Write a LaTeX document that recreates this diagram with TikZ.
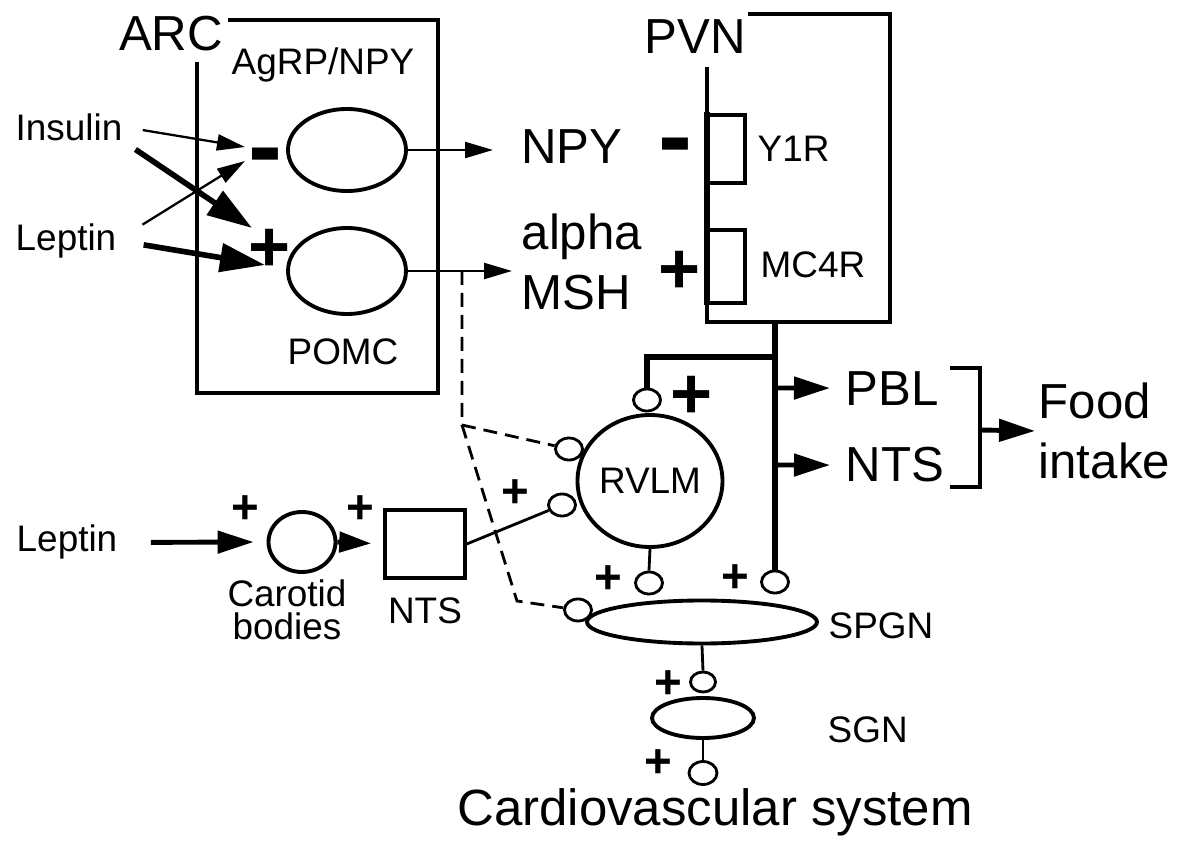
\documentclass[tikz,border=0pt]{standalone}
\usepackage{fontspec}
\setmainfont{Liberation Sans}
\usetikzlibrary{arrows.meta,shapes.geometric}

\tikzset{
  box/.style={line width=1pt},
  link/.style={line width=0.8pt},
  stem/.style={line width=1.5pt},
  cell/.style={draw,ellipse,line width=1.1pt,inner sep=0pt},
  syn/.style={draw,ellipse,line width=0.8pt,inner sep=0pt,
    minimum width=2.7mm,minimum height=2.2mm},
  lbl/.style={font=\fontsize{10.5}{12}\selectfont,inner sep=0pt},
  big/.style={font=\fontsize{14}{17}\selectfont,inner sep=0pt},
  pl/.style={font=\fontsize{13.5}{14}\selectfont\bfseries,inner sep=0pt},
  bigpl/.style={font=\fontsize{20.5}{21}\selectfont\bfseries,inner sep=0pt},
  mn/.style={font=\fontsize{29}{29}\selectfont\bfseries,inner sep=0pt},
  thinarr/.style={-{Triangle[length=2.8mm,width=1.6mm]},line width=0.65pt},
  fatarr/.style={-{Triangle[length=4.5mm,width=2.8mm]},line width=1.6pt},
  midarr/.style={-{Triangle[length=3.6mm,width=2.2mm]},line width=1.4pt},
  dashlink/.style={dash pattern=on 1.4mm off 0.8mm,line width=0.8pt},
}

\begin{document}
\begin{tikzpicture}[x=0.1mm,y=-0.1mm]
  \useasboundingbox (0,0) rectangle (1184,842);

  % ARC with its two cell groups
  \node[big,anchor=base] (arc) at (171,50) {ARC};
  \draw[box] (228,20) -| (438,393) -| (197,62);
  \node[lbl,anchor=base] (agrp) at (323,75) {AgRP/NPY};
  \node[cell,minimum width=11.8mm,minimum height=8.2mm] (npyCell) at (347,150) {};
  \node[cell,minimum width=11.8mm,minimum height=8.6mm] (pomcCell) at (347,271) {};
  \node[lbl,anchor=base] (pomc) at (343,365) {POMC};

  \node[lbl,anchor=base] (ins) at (69,140) {Insulin};
  \node[lbl,anchor=base] (lep) at (66,250) {Leptin};
  \coordinate (npyIn) at (245,147);
  \coordinate (npyIn2) at (245,161);
  \coordinate (pomcIn) at (252,228);
  \coordinate (pomcIn2) at (265,265);
  \draw[thinarr,shorten <=2mm] (ins.east) -- (npyIn);
  \draw[fatarr,shorten <=1.5mm] (ins.south east) -- (pomcIn);
  \draw[thinarr,shorten <=3mm] (lep.east) -- (npyIn2);
  \draw[fatarr,shorten <=2.7mm] (lep.east) -- (pomcIn2);
  \node[mn] (mnA) at (265,164) {-};
  \node[bigpl] (plA) at (270,250) {+};

  % outputs of ARC
  \node[big,anchor=base] (npy) at (572,163) {NPY};
  \node[big,anchor=west,align=left] (msh) at (521,262) {alpha\\MSH};
  \coordinate (npyTip) at (493,150);
  \coordinate (mshTip) at (512,271);
  \draw[thinarr] (npyCell.east) -- (npyTip);
  \draw[thinarr] (pomcCell.east) -- (mshTip);

  % PVN and receptors
  \node[big,anchor=base] (pvn) at (695,53) {PVN};
  \draw[box] (748,14) -| (890,322) -| (707,67);
  \draw[box] (707,115) rectangle (745,183);   % Y1R
  \draw[box] (707,230) rectangle (745,303);   % MC4R
  \draw[stem] (707,112) -- (707,305);
  \node[lbl,anchor=base west] (y1r) at (757,162) {Y1R};
  \node[lbl,anchor=base west] (mc4r) at (760,278) {MC4R};
  \node[mn] (mnB) at (675,154) {-};
  \node[bigpl] (plB) at (680,272) {+};

  % RVLM and its synapses
  \node[cell,font=\fontsize{10.5}{12}\selectfont,minimum width=14.5mm,
    minimum height=13.2mm] (rvlm) at (650,481) {RVLM};
  \node[syn] (synTop) at (647,400) {};
  \node[syn] (synUL) at (569,449) {};
  \node[syn] (synLow) at (562,505) {};
  \node[syn] (synA) at (649,583) {};
  \node[syn] (synB) at (775,582) {};
  \node[syn] (synSP) at (578,610) {};
  \node[bigpl] (plC) at (692,397) {+};

  % PVN stem down to SPGN
  \coordinate (pvnOut) at (775,322);
  \coordinate (stemBar) at (775,357);
  \coordinate (stemPBL) at (775,388);
  \coordinate (stemNTS) at (775,465);
  \draw[stem] (pvnOut) -- (synB.north);
  \draw[stem] (synTop.north) |- (stemBar);
  \node[big,anchor=base west] (pbl) at (845,405) {PBL};
  \node[big,anchor=base west] (ntsR) at (845,482) {NTS};
  \draw[midarr,shorten >=1.5mm] (stemPBL) -- (pbl.west);
  \draw[midarr,shorten >=1.5mm] (stemNTS) -- (ntsR.west);
  \draw[box] (950,368) -| (980,487) -- (950,487);
  \coordinate (brk) at (980,430);
  \node[big,anchor=west,align=left] (food) at (1038,431) {Food\\intake};
  \draw[midarr,shorten >=0.3mm] (brk) -- (food.west);

  % dashed alpha-MSH projection
  \coordinate (dashTop) at (462,271);
  \coordinate (dashKnee) at (462,425);
  \coordinate (dashLow) at (517,601);
  \draw[dashlink] (dashTop) -- (dashKnee) -- (synUL);
  \draw[dashlink] (dashKnee) -- (dashLow) -- (synSP);

  % carotid bodies and NTS
  \node[lbl,anchor=base] (lep2) at (67,552) {Leptin};
  \node[draw,ellipse,line width=1.1pt,minimum width=6.7mm,minimum height=6mm]
    (carotid) at (302,542) {};
  \node[lbl,align=center,font=\fontsize{10.5}{9.4}\selectfont] (carTxt)
    at (287,610) {Carotid\\bodies};
  \node[draw,box,minimum width=8mm,minimum height=6.8mm] (ntsBox) at (425,544) {};
  \node[lbl,anchor=base] (ntsTxt) at (425,623) {NTS};
  \draw[midarr,shorten <=3.3mm,shorten >=1.3mm] (lep2.east) -- (carotid.west);
  \draw[midarr,-{Triangle[length=3.2mm,width=2mm]},shorten >=1.2mm]
    (carotid.east) -- (ntsBox.west);
  \draw[link] (ntsBox.east) -- (synLow);
  \node[pl] (plD) at (245,510) {+};
  \node[pl] (plE) at (360,510) {+};
  \node[pl] (plF) at (515,494) {+};

  % sympathetic chain
  \node[cell,minimum width=23mm,minimum height=4.3mm] (spgn) at (702,622) {};
  \node[lbl,anchor=base west] (spgnTxt) at (828,638) {SPGN};
  \node[syn,minimum width=2.5mm,minimum height=2mm] (synC) at (703,682) {};
  \node[cell,minimum width=10.2mm,minimum height=4mm] (sgn) at (703,718) {};
  \node[lbl,anchor=base west] (sgnTxt) at (827,742) {SGN};
  \node[syn,minimum width=2.8mm,minimum height=2.3mm] (synD) at (703,773) {};
  \draw[link] (rvlm.south) -- (synA.north);
  \draw[link] (spgn.south) -- (synC.north);
  \draw[link] (sgn.south) -- (synD.north);
  \node[pl] (plG) at (608,580) {+};
  \node[pl] (plH) at (735,579) {+};
  \node[pl] (plI) at (668,685) {+};
  \node[pl] (plJ) at (658,764) {+};
  \node[font=\fontsize{14.5}{17}\selectfont,inner sep=0pt,anchor=base] (cvs)
    at (715,825) {Cardiovascular system};
\end{tikzpicture}
\end{document}
